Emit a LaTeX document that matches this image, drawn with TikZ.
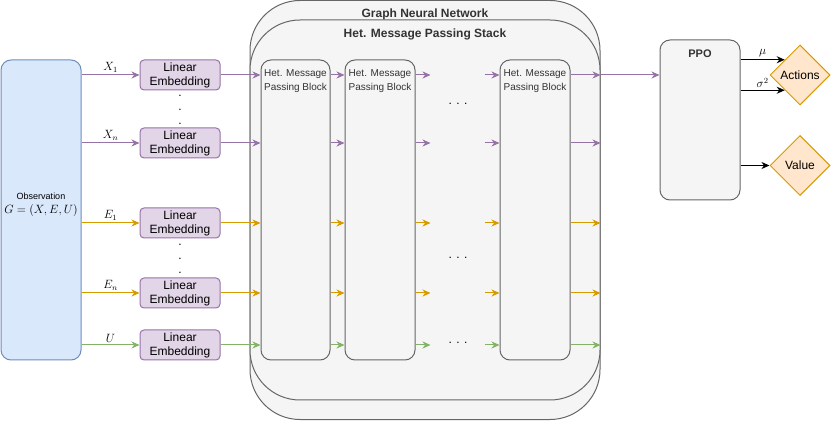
\documentclass[tikz,border=0pt]{standalone}
\usepackage{amsmath,amssymb}
\usepackage{fontspec}
\setmainfont{Liberation Sans}
\usepackage{tikz}
\usetikzlibrary{arrows.meta}
\usetikzlibrary{calc}
\usetikzlibrary{shapes.geometric}
\definecolor{obsfill}{HTML}{DAE8FC}
\definecolor{obsline}{HTML}{6C8EBF}
\definecolor{embfill}{HTML}{E1D5E7}
\definecolor{embline}{HTML}{9673A6}
\definecolor{edgeor}{HTML}{D79B00}
\definecolor{glbgreen}{HTML}{82B366}
\definecolor{outfill}{HTML}{FFE6CC}
\definecolor{boxfill}{HTML}{F5F5F5}
\definecolor{boxline}{HTML}{666666}
\definecolor{titletext}{HTML}{333333}

\begin{document}
\begin{tikzpicture}[x=1pt, y=-1pt, font=\fontsize{12}{14}\selectfont,
    obs/.style={draw=obsline, fill=obsfill, line width=1pt, rounded corners=10pt, minimum width=80pt, minimum height=300pt, inner sep=0},
    emb/.style={draw=embline, fill=embfill, line width=1pt, rounded corners=4pt, minimum width=80pt, minimum height=30pt, align=center, inner sep=0},
    grp/.style={draw=boxline, fill=boxfill, line width=1pt, rounded corners=50pt, minimum width=350pt},
    blk/.style={draw=boxline, fill=boxfill, line width=1pt, rounded corners=10pt, minimum width=70pt, minimum height=300pt},
    blktext/.style={font=\fontsize{10}{14}\selectfont, text=titletext, align=center, inner sep=0},
    ttl/.style={font=\fontsize{12}{14}\selectfont\bfseries, text=titletext, inner sep=0},
    outbox/.style={draw=edgeor, fill=outfill, line width=1pt, diamond, aspect=1, minimum width=60pt, minimum height=60pt, inner sep=0},
    dotpt/.style={inner sep=0, font=\fontsize{12}{14}\selectfont},
    flow/.style={-{Stealth[length=8pt, width=7pt, inset=2.5pt]}, line width=1pt},
    lbl/.style={above, font=\fontsize{12}{14}\selectfont, inner sep=2pt, text=black}]
\useasboundingbox (0,0) rectangle (831,422);

\node[grp, minimum height=419pt] (gnn) at (425,210) {};
\node[ttl] (gnnttl) at (425,14) {Graph Neural Network};
\node[grp, minimum height=380pt] (stack) at (425,210) {};
\node[ttl] (stackttl) at (425,34) {Het. Message Passing Stack};

\node[blk, minimum width=69pt] (b1) at (295.5,210) {};
\node[blk] (b2) at (380,210) {};
\node[blk] (b3) at (535,210) {};
\node[blktext] (b1t) at (295.5,81) {Het. Message\\Passing Block};
\node[blktext] (b2t) at (380,81) {Het. Message\\Passing Block};
\node[blktext] (b3t) at (535,81) {Het. Message\\Passing Block};

\node[obs] (obs) at (41,210) {};
\node[align=center, inner sep=0] (obst) at (41,205) {{\fontsize{9}{13}\selectfont Observation}\\$G=(X,E,U)$};

\node[emb] (e1) at (180,75) {Linear\\Embedding};
\node[emb] (e2) at (180,143) {Linear\\Embedding};
\node[emb] (e3) at (180,223) {Linear\\Embedding};
\node[emb] (e4) at (180,293) {Linear\\Embedding};
\node[emb] (e5) at (180,345) {Linear\\Embedding};
\foreach \k/\d in {1/96,2/110,3/124} {
  \node[dotpt] (vda\k) at (180,\d) {.};
}
\foreach \k/\d in {1/245,2/259,3/273} {
  \node[dotpt] (vdb\k) at (180,\d) {.};
}

\node[inner sep=0] (hd1) at (458,104) {. . .};
\node[inner sep=0] (hd2) at (458,258) {. . .};
\node[inner sep=0] (hd3) at (458,343) {. . .};

\node[draw=boxline, fill=boxfill, line width=1pt, rounded corners=10pt, minimum width=80pt, minimum height=160pt] (ppo) at (700,120) {};
\node[ttl, font=\fontsize{11}{13}\selectfont\bfseries] (ppottl) at (700,54) {PPO};
\node[outbox] (act) at (800,75) {Actions};
\node[outbox] (val) at (800,165.5) {Value};

\foreach \i/\c/\t in {1/embline/X_1, 2/embline/X_n, 3/edgeor/E_1, 4/edgeor/E_n, 5/glbgreen/U} {
  \draw[flow, \c] (obs.east |- e\i.west) -- (e\i.west) node[lbl, midway] {$\t$};
  \draw[flow, \c] (e\i.east) -- (b1.west |- e\i.east);
  \draw[flow, \c] (b1.east |- e\i.east) -- (b2.west |- e\i.east);
  \draw[flow, \c] (b2.east |- e\i.east) -- ++(15,0);
  \draw[flow, \c] ($(b3.west |- e\i.east)+(-15,0)$) -- (b3.west |- e\i.east);
  \draw[flow, \c] (b3.east |- e\i.east) -- (stack.east |- e\i.east);
}
\draw[flow, embline] (stack.east |- e1.east) -- (ppo.west |- e1.east);

\draw[flow] (ppo.east |- act.north west) -- (act.north west) node[lbl, midway] {$\mu$};
\draw[flow] (ppo.east |- act.south west) -- (act.south west) node[lbl, midway] {$\sigma^2$};
\draw[flow] (ppo.east |- val.west) -- (val.west);
\end{tikzpicture}
\end{document}
